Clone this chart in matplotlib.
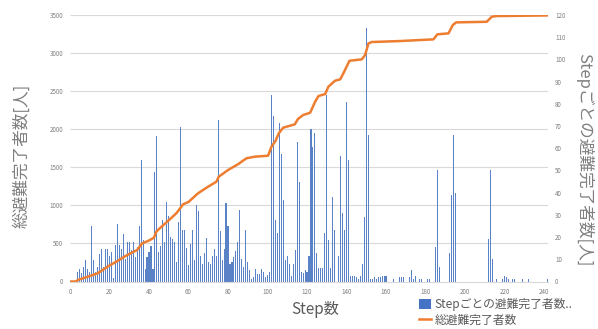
import matplotlib
matplotlib.use('Agg')
import matplotlib.pyplot as plt
from matplotlib.lines import Line2D
from matplotlib.patches import Patch

plt.rcParams['font.family'] = ['Noto Sans CJK JP', 'DejaVu Sans']

# per-step evacuees (right axis)
bar_steps = [4, 5, 6, 7, 8, 9, 10, 11, 12, 13, 14, 15, 16, 17, 18, 19, 20, 21, 22, 23,
             24, 25, 26, 27, 28, 29, 30, 31, 32, 33, 34, 35, 36, 37, 38, 39, 40, 41, 42, 43,
             44, 45, 46, 47, 48, 49, 50, 51, 52, 53, 54, 55, 56, 57, 58, 59, 60, 61, 62, 63,
             64, 65, 66, 67, 68, 69, 70, 71, 72, 73, 74, 75, 76, 77, 78, 79, 80, 81, 82, 83,
             84, 85, 86, 87, 88, 89, 90, 91, 92, 93, 94, 95, 96, 97, 98, 99, 100, 101, 102, 103,
             104, 105, 106, 107, 108, 109, 110, 111, 112, 113, 114, 115, 116, 117, 118, 119, 120, 121, 122, 123,
             124, 125, 126, 127, 128, 129, 130, 131, 132, 133, 134, 136, 137, 138, 139, 140, 141, 142, 143, 144,
             145, 146, 147, 148, 149, 150, 151, 152, 153, 154, 155, 156, 157, 158, 159, 160, 164, 167, 168, 169,
             172, 173, 174, 175, 177, 178, 181, 182, 185, 186, 187, 192, 193, 194, 195, 212, 213, 214, 216, 219,
             220, 221, 222, 224, 225, 229, 232, 242]
bar_counts = [4.5, 5.7, 3.9, 6.5, 9.9, 5.7, 4.5, 24.8, 9.9, 4.2, 6.5, 12.5, 14.7, 6.5, 14.7, 14.7, 11.7, 13.5, 1.5, 16.5,
              25.8, 16.5, 14.7, 21.5, 10.2, 17.7, 17.7, 14.0, 17.7, 11.0, 15.5, 24.8, 54.5, 18.9, 5.7, 11.0, 13.2, 15.9, 5.7, 49.5,
              65.4, 13.2, 15.9, 27.5, 17.7, 35.7, 29.7, 20.0, 19.2, 17.7, 8.7, 26.7, 69.6, 23.0, 23.0, 15.0, 7.5, 17.0, 23.4, 9.9,
              34.5, 31.7, 11.7, 8.0, 12.8, 19.5, 8.7, 8.0, 11.7, 14.7, 11.7, 72.5, 22.7, 9.9, 14.7, 35.4, 24.8, 8.0, 8.7, 11.0,
              13.7, 17.7, 32.4, 10.2, 6.7, 23.4, 8.7, 5.0, 1.0, 2.0, 5.7, 3.5, 3.5, 5.7, 4.2, 2.0, 3.0, 4.2, 84.0, 74.5,
              27.5, 21.7, 71.5, 57.5, 36.5, 9.9, 11.7, 8.0, 2.7, 8.0, 14.0, 62.7, 44.7, 4.5, 3.9, 5.0, 4.2, 11.7, 68.7, 60.7,
              66.7, 12.8, 6.0, 6.0, 6.0, 21.7, 84.0, 18.9, 6.0, 37.9, 23.0, 11.7, 56.7, 30.7, 23.0, 81.0, 54.7, 2.7, 2.5, 2.7,
              2.0, 1.2, 2.7, 8.0, 29.0, 114.0, 66.0, 1.0, 1.0, 2.0, 1.2, 2.0, 2.0, 2.7, 2.7, 2.7, 1.0, 2.0, 2.0, 2.0,
              2.0, 5.0, 1.0, 2.7, 1.0, 1.0, 1.0, 1.0, 15.5, 50.0, 6.5, 13.0, 39.0, 66.0, 40.0, 19.0, 50.0, 10.0, 1.0, 1.0,
              2.7, 2.0, 1.0, 1.0, 1.0, 1.0, 1.0, 1.0]

# cumulative evacuees (left axis)
line_steps = [0, 3, 4, 9, 14, 19, 24, 29, 34, 36.5, 39.5, 42.5, 43.7, 45.4, 49.6, 53.8, 56, 57.2, 60, 64.8,
              69.9, 74.1, 75.3, 80, 85, 89.3, 93.5, 100.3, 102, 104, 105.7, 107.9, 113.8, 115.4, 118, 121.6, 124.1, 125.8, 129.2, 130.8,
              134.2, 136.8, 138.4, 141.5, 147.7, 149.4, 151.1, 152.8, 167.1, 184, 186, 191.6, 193.8, 195.5, 211, 213.5, 216, 243]
line_totals = [0, 0, 20, 63, 107, 195, 269, 348, 414, 501, 532, 575, 654, 698, 795, 895, 969, 1013, 1045, 1158,
               1245, 1310, 1376, 1464, 1539, 1618, 1639, 1652, 1770, 1845, 1946, 2020, 2064, 2134, 2186, 2217, 2361, 2436, 2462, 2558,
               2637, 2655, 2734, 2899, 2917, 2974, 3127, 3145, 3158, 3180, 3246, 3259, 3368, 3403, 3411, 3477, 3486, 3495]

left_ticks = list(range(0, 3501, 500))
right_ticks = list(range(0, 121, 10))
x_ticks = list(range(0, 241, 20))

W, H = 598, 329
fig = plt.figure(figsize=(W / 100, H / 100), dpi=100)
ax = fig.add_axes([70 / W, 1 - 281.5 / H, 478 / W, 266.5 / H])
ax2 = ax.twinx()
ax.set_zorder(ax2.get_zorder() + 1)
ax.patch.set_visible(False)

ax2.hlines(left_ticks[1:], 0, 1, transform=ax.get_yaxis_transform(),
           colors='#d9d9d9', lw=0.8, zorder=1)
ax2.bar(bar_steps, bar_counts, width=0.55, color='#5a82c6', zorder=2)
ax.plot(line_steps, line_totals, color='#ED7D31', lw=1.8, solid_capstyle='round')

ax.set_xlim(0, 242)
ax.set_ylim(0, 3500)
ax2.set_ylim(0, 120)
ax.set_xticks(x_ticks)
ax.set_yticks(left_ticks)
ax2.set_yticks(right_ticks)

tick_col = '#7f7f7f'
for a in (ax, ax2):
    for s in a.spines.values():
        s.set_visible(False)
    a.tick_params(length=0, labelsize=4.5, colors=tick_col, pad=5)
ax2.spines['bottom'].set_visible(True)
ax2.spines['bottom'].set_color('#d9d9d9')
ax2.spines['bottom'].set_linewidth(0.8)

lab_col = '#7f7f7f'
fig.text(22 / W, 1 - 156 / H, '総避難完了者数[人]', rotation=90, fontsize=12,
         color=lab_col, ha='center', va='center')
fig.text(584 / W, 1 - 160 / H, 'Stepごとの避難完了者数[人]', rotation=-90, fontsize=12,
         color=lab_col, ha='center', va='center')
fig.text(315 / W, 1 - 309 / H, 'Step数', fontsize=11, color='#595959',
         ha='center', va='center')

handles = [Patch(facecolor='#4472C4', edgecolor='none'),
           Line2D([0], [0], color='#ED7D31', lw=1.8)]
labels = ['Stepごとの避難完了者数..', '総避難完了者数']
leg = fig.legend(handles, labels, loc='upper left', bbox_to_anchor=(412 / W, 1 - 291 / H),
                 frameon=False, fontsize=8.5, handlelength=1.0, handleheight=0.8,
                 handletextpad=0.3, labelspacing=0.2, borderpad=0.1)
for t in leg.get_texts():
    t.set_color('#595959')

fig.savefig('out.png', dpi=100)
